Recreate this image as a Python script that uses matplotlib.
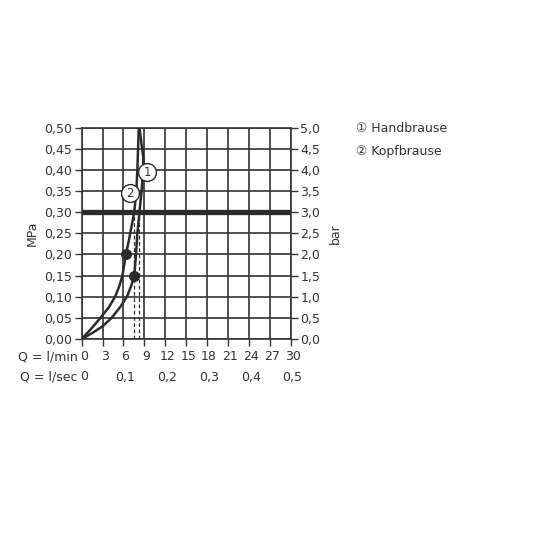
import matplotlib
matplotlib.use("Agg")
import matplotlib.pyplot as plt
import numpy as np

# ---- data ----
q_hand = [0, 1.5, 3.0, 4.3, 5.5, 6.5, 7.1, 7.56, 7.8, 8.0, 8.15, 8.3, 8.6, 8.85, 8.85, 8.6, 8.3]
p_hand = [0, 0.014, 0.03, 0.05, 0.075, 0.1, 0.125, 0.15, 0.2, 0.25, 0.275, 0.3, 0.35, 0.4, 0.43, 0.46, 0.5]
q_kopf = [0, 1.4, 2.7, 3.9, 4.8, 5.4, 5.85, 6.35, 6.8, 7.15, 7.55, 7.85, 8.0, 8.1, 8.2]
p_kopf = [0, 0.025, 0.05, 0.075, 0.1, 0.125, 0.15, 0.2, 0.235, 0.265, 0.3, 0.35, 0.4, 0.45, 0.5]
dot_q = [7.56, 6.35]
dot_p = [0.15, 0.2]
ref_pressure = 0.3
flow_at_ref = [7.55, 8.3]
label_q = [9.45, 6.95]
label_p = [0.394, 0.345]
label_txt = ["1", "2"]
legend_txt = ["\u2460 Handbrause", "\u2461 Kopfbrause"]
lmin_ticks = [0, 3, 6, 9, 12, 15, 18, 21, 24, 27, 30]
lsec_ticks = ["0", "0,1", "0,2", "0,3", "0,4", "0,5"]
mpa_ticks = [0.0, 0.05, 0.1, 0.15, 0.2, 0.25, 0.3, 0.35, 0.4, 0.45, 0.5]

FAM = ["DejaVu Sans", "Noto Sans CJK JP"]
plt.rcParams['font.family'] = FAM
TXT = "#333333"
LINE = "#2b2b2b"
FS = 9

fig = plt.figure(figsize=(5.36, 5.36), dpi=100)
ax = fig.add_axes([0.1524, 0.3675, 0.3896, 0.3946])
ax.set_xlim(0, 30)
ax.set_ylim(0, 0.5)

# grid
for x in lmin_ticks:
    ax.axvline(x, color="#3a3a3a", lw=1.25, zorder=1)
for y in mpa_ticks:
    ax.axhline(y, color="#3a3a3a", lw=1.25, zorder=1)
ax.axhline(ref_pressure, color="#2a2a2a", lw=3.8, zorder=2)

# dashed lines
for q in flow_at_ref:
    ax.plot([q, q], [0, ref_pressure], color=LINE, lw=0.9, ls=(0, (3, 2)), zorder=3)

ax.plot(q_hand, p_hand, color=LINE, lw=1.8, zorder=4, solid_joinstyle="round")
ax.plot(q_kopf, p_kopf, color=LINE, lw=1.8, zorder=4, solid_joinstyle="round")
ax.scatter(dot_q, dot_p, s=48, color=LINE, zorder=5)

ax.scatter(label_q, label_p, s=165, facecolor="white", edgecolor=LINE, lw=1.0, zorder=6)
for q, p, t in zip(label_q, label_p, label_txt):
    ax.text(q, p, t, ha="center", va="center", fontsize=8.5, color=TXT, zorder=7)

for s in ax.spines.values():
    s.set_color("#333333")
    s.set_linewidth(1.2)

ax.set_xticks(lmin_ticks)
ax.set_xticklabels([])
ax.set_yticks(mpa_ticks)
ax.set_yticklabels([f"{v:.2f}".replace(".", ",") for v in mpa_ticks], fontsize=FS, color=TXT)
ax.tick_params(axis="both", direction="out", length=5, width=1.0, color="#333333", pad=2)
ax.set_ylabel("MPa", fontsize=FS, color=TXT, labelpad=4)

ax2 = ax.twinx()
ax2.set_ylim(0, 5)
bar_ticks = [v * 10 for v in mpa_ticks]
ax2.set_yticks(bar_ticks)
ax2.set_yticklabels([f"{v:.1f}".replace(".", ",") for v in bar_ticks], fontsize=FS, color=TXT)
ax2.tick_params(axis="y", direction="out", length=5, width=1.0, color="#333333", pad=2)
ax2.set_ylabel("bar", fontsize=FS, color=TXT, rotation=90, labelpad=6)
for s in ax2.spines.values():
    s.set_visible(False)

# bottom rows
from matplotlib.transforms import blended_transform_factory
tr = blended_transform_factory(ax.transData, fig.transFigure)
y1 = 1 - 357 / 536
y2 = 1 - 377 / 536
for v in lmin_ticks:
    ax.text(v + 0.3, y1, str(v), transform=tr, ha="center", va="center", fontsize=FS, color=TXT)
for i, t in enumerate(lsec_ticks):
    ax.text(lmin_ticks[2 * i] + 0.3, y2, t, transform=tr, ha="center", va="center", fontsize=FS, color=TXT)
fig.text(78 / 536, y1, "Q = l/min", ha="right", va="center", fontsize=FS, color=TXT)
fig.text(78 / 536, y2, "Q = l/sec", ha="right", va="center", fontsize=FS, color=TXT)

# legend text
fig.text(356 / 536, 1 - 128 / 536, legend_txt[0], ha="left", va="center", fontsize=FS, color=TXT)
fig.text(356 / 536, 1 - 151 / 536, legend_txt[1], ha="left", va="center", fontsize=FS, color=TXT)

fig.savefig("out.png", dpi=100, facecolor="white")
